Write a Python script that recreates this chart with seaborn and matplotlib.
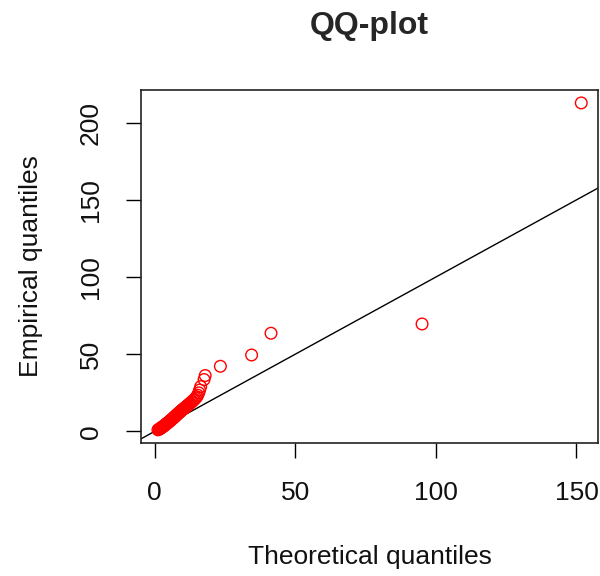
import matplotlib
matplotlib.use("Agg")
import matplotlib.pyplot as plt
import seaborn as sns
import pandas as pd

# Sorted theoretical vs empirical quantiles
theoretical = [1.2, 1.6, 1.9, 2.1, 2.4, 2.6, 2.8, 3.0, 3.3, 3.5, 3.7, 3.9, 4.1, 4.4, 4.6,
               4.8, 5.0, 5.3, 5.5, 5.7, 5.9, 6.2, 6.4, 6.6, 6.9, 7.1, 7.3, 7.6, 7.8, 8.0,
               8.3, 8.5, 8.8, 9.0, 9.3, 9.5, 9.8, 10.1, 10.4, 10.7, 11.0, 11.3, 11.6, 11.9,
               12.3, 12.6, 13.0, 13.4, 13.8, 14.2, 14.6, 15.0, 15.3, 15.7, 16.0, 16.4,
               17.6, 18.0, 23.4, 34.5, 41.4, 95.1, 151.7]
empirical = [1.0, 1.4, 1.7, 2.0, 2.3, 2.6, 2.9, 3.2, 3.5, 3.8, 4.1, 4.4, 4.8, 5.1, 5.4,
             5.8, 6.1, 6.5, 6.8, 7.2, 7.5, 7.9, 8.3, 8.6, 9.0, 9.4, 9.8, 10.2, 10.6, 11.0,
             11.4, 11.8, 12.2, 12.6, 13.0, 13.4, 13.9, 14.3, 14.8, 15.2, 15.7, 16.1, 16.6,
             17.1, 17.6, 18.2, 18.8, 19.4, 20.1, 20.8, 21.6, 22.4, 23.5, 25.0, 26.8, 29.0,
             33.6, 36.2, 42.2, 49.5, 63.6, 69.6, 212.8]
x_ticks = [0, 50, 100, 150]
y_ticks = [0, 50, 100, 150, 200]

df = pd.DataFrame({"theoretical": theoretical, "empirical": empirical})

sns.set_style("ticks")
plt.rcParams["font.family"] = ["Liberation Sans", "DejaVu Sans"]

fig = plt.figure(figsize=(6.0, 5.76), dpi=100)
ax = fig.add_axes([0.235, 0.231, 0.762, 0.613])

sns.scatterplot(data=df, x="theoretical", y="empirical", ax=ax, marker="o", s=70,
                color="red", edgecolor="red", linewidth=1.0, legend=False, zorder=3)
for coll in ax.collections:
    coll.set_facecolor("none")

ax.axline((0, 0), slope=1, color="black", linewidth=1.0, zorder=2)

xmin, xmax = min(theoretical), max(theoretical)
ymin, ymax = min(empirical), max(empirical)
xpad = 0.04 * (xmax - xmin)
ypad = 0.04 * (ymax - ymin)
ax.set_xlim(xmin - xpad, xmax + xpad)
ax.set_ylim(ymin - ypad, ymax + ypad)

ax.set_xticks(x_ticks)
ax.set_yticks(y_ticks)
ax.set_xticklabels([str(t) for t in x_ticks])
ax.set_yticklabels([str(t) for t in y_ticks], rotation=90, va="center")
ax.tick_params(axis="both", direction="out", length=10.5, width=1.0, color="black",
               labelsize=19, labelcolor="#111111", pad=17)

for side in ["top", "right", "bottom", "left"]:
    ax.spines[side].set_visible(True)
    ax.spines[side].set_color("#222222")
    ax.spines[side].set_linewidth(1.2)

ax.set_xlabel("Theoretical quantiles", fontsize=19, color="#111111", labelpad=29)
ax.set_ylabel("Empirical quantiles", fontsize=19, color="#111111", labelpad=26)
ax.set_title("QQ-plot", fontsize=23, fontweight="bold", pad=40)

fig.savefig("out.png", dpi=100)
